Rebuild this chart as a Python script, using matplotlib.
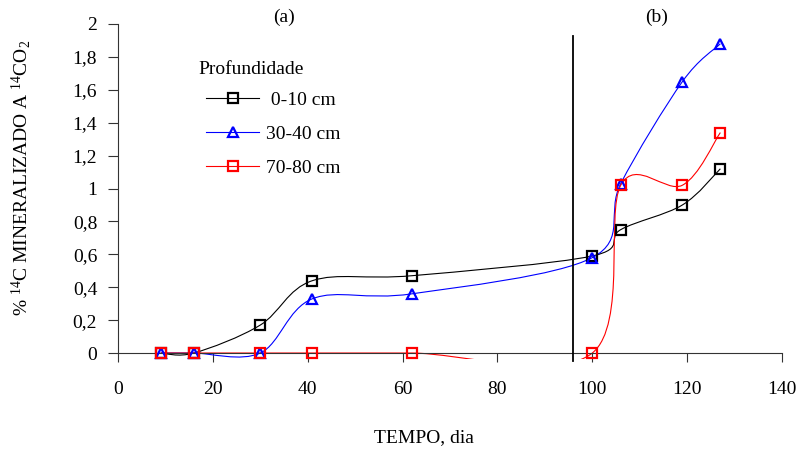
import matplotlib
matplotlib.use("Agg")
import matplotlib.pyplot as plt
import numpy as np
from matplotlib.path import Path
from matplotlib.patches import PathPatch
from matplotlib.lines import Line2D

plt.rcParams['font.family'] = ['Liberation Serif', 'DejaVu Serif']
plt.rcParams['mathtext.fontset'] = 'custom'
plt.rcParams['mathtext.rm'] = 'Liberation Serif'
plt.rcParams['mathtext.it'] = 'Liberation Serif:italic'

# Data
days = [9, 16, 30, 41, 62, 100, 106, 119, 127]
prof_0_10 = [0.0, 0.0, 0.17, 0.44, 0.47, 0.59, 0.75, 0.90, 1.12]
prof_30_40 = [0.0, 0.0, 0.0, 0.33, 0.36, 0.58, 1.03, 1.65, 1.88]
prof_70_80 = [0.0, 0.0, 0.0, 0.0, 0.0, 0.0, 1.02, 1.02, 1.34]
labels = [' 0-10 cm', '30-40 cm', '70-80 cm']
colors = ['black', 'blue', 'red']
markers = ['s', '^', 's']
x_ticks = [0, 20, 40, 60, 80, 100, 120, 140]
y_ticks = [0, 0.2, 0.4, 0.6, 0.8, 1.0, 1.2, 1.4, 1.6, 1.8, 2.0]
y_ticklabels = ['0', '0,2', '0,4', '0,6', '0,8', '1', '1,2', '1,4', '1,6', '1,8', '2']
split_day = 96


def smooth_path(x, y):
    """Excel-like smoothed line: Catmull-Rom as cubic Bezier segments."""
    pts = np.column_stack([x, y]).astype(float)
    n = len(pts)
    verts = [pts[0]]
    codes = [Path.MOVETO]
    for i in range(n - 1):
        p0 = pts[i - 1] if i > 0 else pts[i]
        p1 = pts[i]
        p2 = pts[i + 1]
        p3 = pts[i + 2] if i + 2 < n else pts[i + 1]
        c1 = p1 + (p2 - p0) / 6.0
        c2 = p2 - (p3 - p1) / 6.0
        verts += [c1, c2, p2]
        codes += [Path.CURVE4] * 3
    return Path(verts, codes)


fig = plt.figure(figsize=(8.01, 4.5), dpi=100)
ax = fig.add_axes([0.1473, 0.2027, 0.829, 0.744])
ax.set_xlim(0, 140)
ax.set_ylim(-0.035, 2.0)

series = [prof_0_10, prof_30_40, prof_70_80]
handles = []
for vals, c, m, lab in zip(series, colors, markers, labels):
    patch = PathPatch(smooth_path(days, vals), facecolor='none', edgecolor=c,
                      lw=0.8, zorder=2)
    ax.add_patch(patch)
    ax.plot(days, vals, linestyle='none', marker=m, markersize=7,
            markerfacecolor='none', markeredgecolor=c, markeredgewidth=1.6,
            zorder=3, clip_on=False)
    handles.append(Line2D([], [], color=c, lw=0.8, marker=m, markersize=7,
                          markerfacecolor='none', markeredgecolor=c,
                          markeredgewidth=1.6))

ax.plot([split_day, split_day], [-0.05, 1.93], color='black', lw=1.3,
        clip_on=False, zorder=4)

for s in ['top', 'right']:
    ax.spines[s].set_visible(False)
ax.spines['bottom'].set_position(('data', 0))
ax.spines['left'].set_bounds(0, 2)
ax.spines['left'].set_color('#333333')
ax.spines['bottom'].set_color('#333333')

ax.set_xticks(x_ticks)
ax.set_yticks(y_ticks)
ax.set_yticklabels(y_ticklabels)
ax.tick_params(axis='x', direction='out', length=6.5, width=0.8, pad=14,
               labelsize=14, color='#333333')
ax.tick_params(axis='y', direction='out', length=7, width=0.8, pad=8,
               labelsize=14, color='#333333')

ax.set_xlabel('TEMPO, dia', fontsize=14)
ax.xaxis.set_label_coords(0.461, -0.21)
ax.set_ylabel(r'% $^{14}$C MINERALIZADO A $^{14}$CO$_2$', fontsize=14)
ax.yaxis.set_label_coords(-0.128, 0.54)

ax.text(35, 2.04, '(a)', fontsize=14, ha='center', va='center')
ax.text(113.6, 2.04, '(b)', fontsize=14, ha='center', va='center')

ax.text(0.1205, 0.865, 'Profundidade', transform=ax.transAxes, fontsize=14,
        ha='left', va='center')
leg = ax.legend(handles, labels, loc='upper left',
                bbox_to_anchor=(0.121, 0.821), frameon=False, fontsize=14,
                handlelength=2.73, handletextpad=0.36,
                labelspacing=0.84, borderaxespad=0)

fig.savefig('out.png', dpi=100)
